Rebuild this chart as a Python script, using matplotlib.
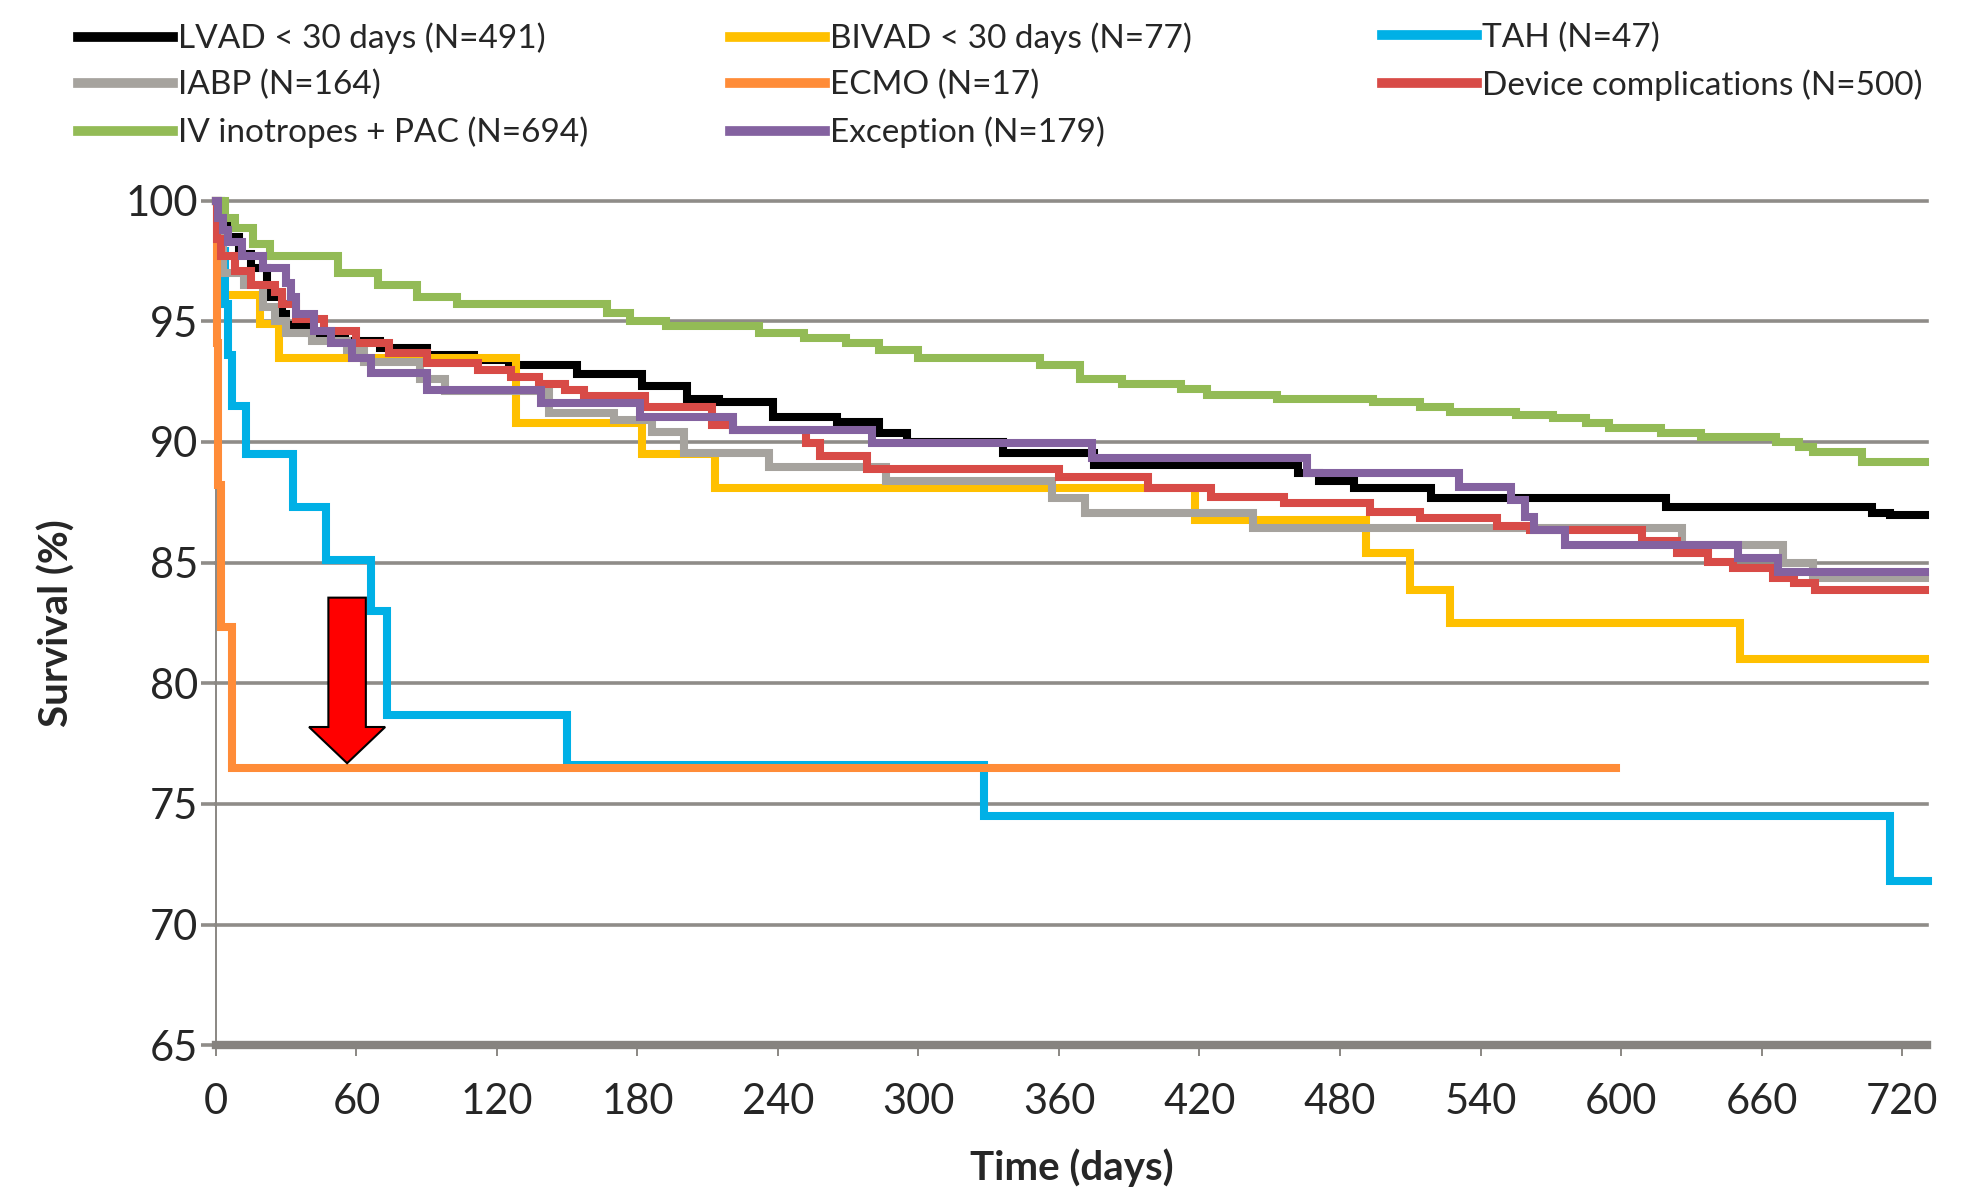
import matplotlib
matplotlib.use('Agg')
import matplotlib.pyplot as plt
import matplotlib.patches as patches

plt.rcParams['font.family'] = ['Lato', 'DejaVu Sans']

# survival data (days, survival %)
lvad_t = [0, 2, 5, 10, 15, 22, 28, 30, 40, 55, 70, 90, 110, 125, 154, 182, 201, 215, 238,
          265, 283, 295, 336, 375, 462, 471, 486, 519, 619, 707, 715, 730]
lvad_s = [100, 99.2, 98.5, 97.8, 97.2, 96.0, 95.3, 94.85, 94.5, 94.2, 93.9, 93.6, 93.4, 93.2,
          92.8, 92.3, 91.8, 91.67, 91.05, 90.84, 90.36, 90.0, 89.53, 89.05, 88.7, 88.4, 88.08,
          87.67, 87.32, 87.05, 86.97, 86.97]

bivad_t = [0, 1, 2, 19, 27, 128, 182, 213, 418, 491, 510, 527, 651, 730]
bivad_s = [100, 98.7, 96.1, 94.9, 93.5, 90.8, 89.5, 88.1, 86.76, 85.4, 83.87, 82.5, 81.0, 81.0]

tah_t = [0, 2, 4, 5, 7, 13, 33, 47, 66, 73, 150, 328, 715, 731]
tah_s = [100, 97.9, 95.7, 93.6, 91.5, 89.5, 87.3, 85.1, 83.0, 78.7, 76.6, 74.5, 71.8, 71.8]

iabp_t = [0, 1, 3, 12, 20, 25, 30, 41, 56, 63, 87, 98, 142, 170, 186, 200, 236, 286, 357,
          371, 443, 626, 669, 682, 730]
iabp_s = [100, 98.6, 97.0, 96.5, 95.6, 95.0, 94.5, 94.2, 93.8, 93.3, 92.6, 92.1, 91.2, 90.9,
          90.4, 89.55, 88.98, 88.4, 87.67, 87.05, 86.45, 85.75, 84.97, 84.35, 84.35]

ecmo_t = [0, 0.5, 1, 2, 7, 598]
ecmo_s = [100, 94.1, 88.2, 82.35, 76.5, 76.5]

dev_t = [0, 0.5, 2, 8, 15, 25, 28, 34, 46, 60, 74, 90, 112, 126, 138, 149, 157, 183, 212,
         221, 252, 258, 278, 360, 398, 425, 456, 493, 514, 547, 561, 609, 624, 637, 648, 665,
         674, 683, 730]
dev_s = [100, 98.4, 97.7, 97.1, 96.5, 96.2, 95.7, 95.1, 94.6, 94.1, 93.7, 93.26, 92.98, 92.7,
         92.4, 92.15, 91.9, 91.46, 90.7, 90.5, 89.95, 89.4, 88.9, 88.56, 88.08, 87.73, 87.46,
         87.1, 86.84, 86.5, 86.35, 85.9, 85.4, 85.04, 84.77, 84.35, 84.14, 83.87, 83.87]

iv_t = [0, 4, 8, 16, 23, 52, 69, 86, 103, 167, 177, 192, 232, 251, 269, 283, 300, 352, 369,
        387, 412, 423, 453, 494, 514, 527, 555, 571, 585, 595, 617, 634, 666, 676, 682, 703, 730]
iv_s = [100, 99.3, 98.86, 98.2, 97.7, 97.0, 96.5, 96.0, 95.7, 95.35, 95.0, 94.8, 94.5, 94.3,
        94.1, 93.8, 93.5, 93.2, 92.6, 92.4, 92.2, 91.95, 91.8, 91.67, 91.46, 91.25, 91.1, 91.0,
        90.8, 90.57, 90.36, 90.2, 90.0, 89.8, 89.6, 89.18, 89.18]

exc_t = [0, 1, 3, 5, 11, 20, 30, 32, 34, 42, 49, 58, 66, 90, 139, 181, 221, 280, 374, 466,
         531, 553, 559, 563, 576, 650, 667, 730]
exc_s = [100, 99.3, 98.8, 98.3, 97.7, 97.2, 96.6, 96.0, 95.3, 94.6, 94.1, 93.5, 92.85, 92.15,
         91.6, 91.05, 90.5, 89.95, 89.35, 88.7, 88.15, 87.6, 86.9, 86.35, 85.75, 85.18, 84.63,
         84.63]

labels = ['LVAD < 30 days (N=491)', 'BIVAD < 30 days (N=77)', 'TAH (N=47)',
          'IABP (N=164)', 'ECMO (N=17)', 'Device complications (N=500)',
          'IV inotropes + PAC (N=694)', 'Exception (N=179)']
colors = ['#000000', '#FFC000', '#00B0E6', '#A6A39E', '#FF8C38', '#D84B47', '#93BB56', '#8462A0']
times = [lvad_t, bivad_t, tah_t, iabp_t, ecmo_t, dev_t, iv_t, exc_t]
surv = [lvad_s, bivad_s, tah_s, iabp_s, ecmo_s, dev_s, iv_s, exc_s]

x_ticks = list(range(0, 721, 60))
y_ticks = list(range(65, 101, 5))

# arrow pointing at the ECMO curve
arrow_x, arrow_top, arrow_tip = 56, 83.55, 76.69

fig = plt.figure(figsize=(19.67, 11.88), dpi=100)
ax = fig.add_axes([0.1098, 0.1201, 0.8699, 0.7110])

grid_col = '#8f8c88'
lines = []
for i in range(len(labels)):
    ln, = ax.step(times[i], surv[i], where='post', color=colors[i], lw=5.8,
                  zorder=3 + i, clip_on=False, solid_joinstyle='miter')
    lines.append(ln)

ax.add_patch(patches.FancyArrow(arrow_x, arrow_top, 0, arrow_tip - arrow_top, width=16,
                                head_width=32.5, head_length=1.5, length_includes_head=True,
                                fc='#FF0000', ec='black', lw=1.5, zorder=20))

ax.set_xlim(0, 730.7)
ax.set_ylim(65, 100)
ax.set_xticks(x_ticks)
ax.set_yticks(y_ticks)
for y in y_ticks[1:]:
    ax.axhline(y, color=grid_col, lw=2.6, zorder=1, clip_on=False)

for s in ['top', 'right']:
    ax.spines[s].set_visible(False)
ax.spines['bottom'].set_color('#86837f')
ax.spines['bottom'].set_linewidth(6)
ax.spines['left'].set_color('#8a8783')
ax.spines['left'].set_linewidth(1.4)

ax.tick_params(axis='y', length=11, width=2.6, color=grid_col, pad=2,
               labelsize=30, labelcolor='#262626')
ax.tick_params(axis='x', length=8, width=1.4, color='#8a8783', direction='out', pad=19,
               labelsize=30, labelcolor='#262626')

ax.set_xlabel('Time (days)', fontsize=29, fontweight='bold', color='#262626', labelpad=20)
ax.set_ylabel('Survival (%)', fontsize=29, fontweight='bold', color='#262626', labelpad=36)

# legend: three columns placed separately
col_x = [0.0397, 0.3711, 0.7025]
groups = [[0, 3, 6], [1, 4, 7], [2, 5]]
for cx, g in zip(col_x, groups):
    leg = fig.legend([lines[i] for i in g], [labels[i] for i in g], loc='upper left',
                     bbox_to_anchor=(cx, 0.981), frameon=False, fontsize=24,
                     handlelength=2.85, handletextpad=0.15, labelspacing=0.48,
                     borderpad=0, borderaxespad=0)
    for t in leg.get_texts():
        t.set_color('#262626')
    for h in leg.legend_handles:
        h.set_linewidth(7)

fig.savefig('out.png', dpi=100)
